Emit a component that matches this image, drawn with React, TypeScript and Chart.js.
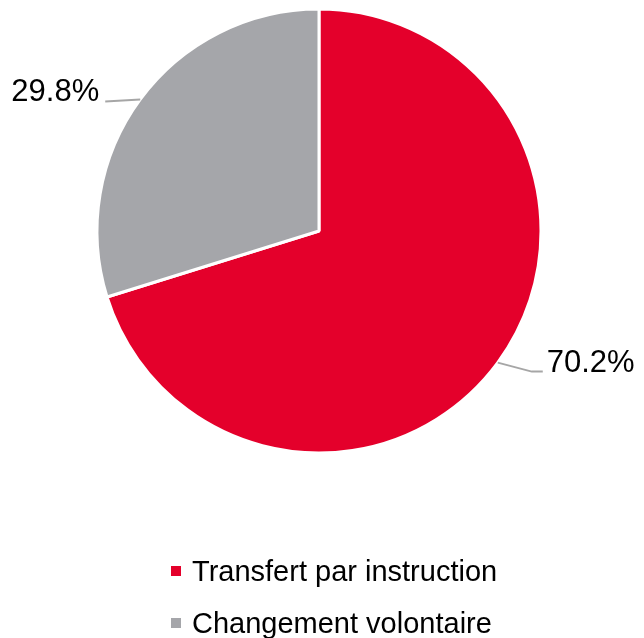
import React, { useEffect, useRef } from "react";
import { Chart, registerables } from "chart.js";

Chart.register(...registerables);

const categories = ["Transfert par instruction", "Changement volontaire"];
const values = [70.2, 29.8];
const valueLabels = ["70.2%", "29.8%"];
const colors = ["#E4002B", "#A5A6AA"];

const FONT = "Arial, 'Liberation Sans', sans-serif";

const labelPlugin = {
  id: "labelsAndLegend",
  afterDraw(chart: any) {
    const ctx = chart.ctx;
    const meta = chart.getDatasetMeta(0);
    ctx.save();
    // data labels with leader lines
    meta.data.forEach((arc: any, i: number) => {
      const { x, y, startAngle, endAngle, outerRadius } = arc.getProps(
        ["x", "y", "startAngle", "endAngle", "outerRadius"],
        true
      );
      const mid = (startAngle + endAngle) / 2;
      const px = x + Math.cos(mid) * outerRadius;
      const py = y + Math.sin(mid) * outerRadius;
      const right = Math.cos(mid) >= 0;
      ctx.strokeStyle = "#A6A6A6";
      ctx.lineWidth = 2;
      ctx.beginPath();
      ctx.moveTo(px, py);
      let tx: number, ty: number;
      if (right) {
        const ex = px + 34, ey = py + 9;
        ctx.lineTo(ex, ey);
        ctx.lineTo(ex + 11, ey);
        tx = ex + 15;
        ty = ey;
      } else {
        const ex = px - 35, ey = py + 2;
        ctx.lineTo(ex, ey);
        tx = ex - 6;
        ty = ey;
      }
      ctx.stroke();
      ctx.fillStyle = "#000";
      ctx.font = `31px ${FONT}`;
      ctx.textAlign = right ? "left" : "right";
      ctx.textBaseline = "alphabetic";
      ctx.fillText(valueLabels[i], tx, ty);
    });
    // legend
    const lx = 171;
    const rows = [571, 623];
    categories.forEach((c, i) => {
      const cy = rows[i];
      ctx.fillStyle = colors[i];
      ctx.fillRect(lx, cy - 5, 10, 10);
      ctx.fillStyle = "#000";
      ctx.font = `29px ${FONT}`;
      ctx.textAlign = "left";
      ctx.textBaseline = "alphabetic";
      ctx.fillText(c, lx + 21, cy + 10);
    });
    ctx.restore();
  },
};

export default function App() {
  const ref = useRef<HTMLCanvasElement | null>(null);
  useEffect(() => {
    if (!ref.current) return;
    const chart = new Chart(ref.current, {
      type: "pie",
      data: {
        labels: categories,
        datasets: [
          {
            data: values,
            backgroundColor: colors,
            borderColor: "#FFFFFF",
            borderWidth: 3,
          },
        ],
      },
      options: {
        animation: false,
        responsive: false,
        radius: 222,
        layout: { padding: { left: 0, right: 6, top: 0, bottom: 176 } },
        plugins: {
          legend: { display: false },
          tooltip: { enabled: false },
        },
      } as any,
      plugins: [labelPlugin],
    });
    return () => chart.destroy();
  }, []);
  return (
    <div style={{ position: "absolute", left: 0, top: 0, width: 644, height: 638, background: "#fff" }}>
      <canvas ref={ref} width={644} height={638} style={{ width: 644, height: 638 }} />
    </div>
  );
}
